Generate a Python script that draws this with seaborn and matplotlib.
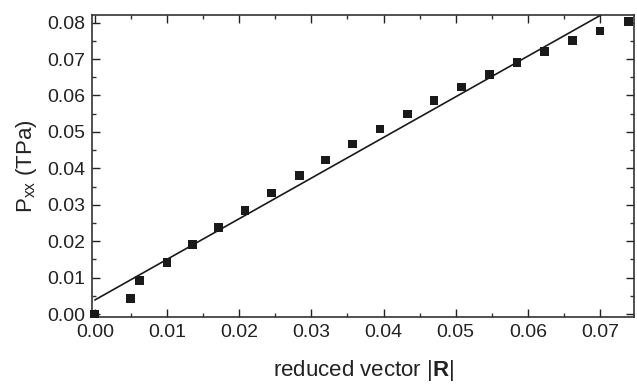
import numpy as np
import pandas as pd
import seaborn as sns
import matplotlib.pyplot as plt
from matplotlib.ticker import MultipleLocator

# data
r_vals = [0.0000, 0.0049, 0.0062, 0.0100, 0.0135, 0.0171, 0.0208, 0.0245,
          0.0283, 0.0320, 0.0357, 0.0395, 0.0433, 0.0470, 0.0508, 0.0547,
          0.0585, 0.0623, 0.0662, 0.0700, 0.0739]
pxx_vals = [0.0000, 0.0043, 0.0092, 0.0141, 0.0190, 0.0238, 0.0284, 0.0332,
            0.0380, 0.0423, 0.0467, 0.0508, 0.0549, 0.0586, 0.0623, 0.0657,
            0.0690, 0.0720, 0.0750, 0.0777, 0.0804]

# linear fit line endpoints
fit_x = [0.0, 0.0747]
fit_y = [0.00385, 0.0872]

df = pd.DataFrame({"r": r_vals, "pxx": pxx_vals})
df_fit = pd.DataFrame({"r": fit_x, "pxx": fit_y})

sns.set_style("ticks")
plt.rcParams['font.family'] = ['Liberation Sans', 'DejaVu Sans']
plt.rcParams['mathtext.fontset'] = 'custom'
plt.rcParams['mathtext.rm'] = 'Liberation Sans'
plt.rcParams['mathtext.bf'] = 'Liberation Sans:bold'

fig = plt.figure(figsize=(6.37, 3.84), dpi=100)
ax = fig.add_axes([0.1444, 0.1737, 0.8509, 0.7873])

sns.lineplot(data=df_fit, x="r", y="pxx", ax=ax, color="#1a1a1a", lw=1.2)
sns.scatterplot(data=df, x="r", y="pxx", ax=ax, marker="s", s=40,
                color="#1a1a1a", edgecolor="none", zorder=3, clip_on=False)

ax.set_xlim(-0.0004, 0.0747)
ax.set_ylim(-0.0009, 0.0821)
ax.xaxis.set_major_locator(MultipleLocator(0.01))
ax.xaxis.set_minor_locator(MultipleLocator(0.005))
ax.yaxis.set_major_locator(MultipleLocator(0.01))
ax.yaxis.set_minor_locator(MultipleLocator(0.005))
ax.xaxis.set_major_formatter(plt.FormatStrFormatter('%.2f'))
ax.yaxis.set_major_formatter(plt.FormatStrFormatter('%.2f'))

ax.tick_params(which="both", direction="in", top=True, right=True,
               color="#333333", width=1.0)
ax.tick_params(which="major", length=6, labelsize=14, colors="#222222", pad=5)
ax.tick_params(which="minor", length=3)
for s in ax.spines.values():
    s.set_color("#333333")
    s.set_linewidth(1.2)

ax.set_xlabel(r"reduced vector |$\mathbf{R}$|", fontsize=16, color="#222222", labelpad=12)
ax.set_ylabel(r"P$_{\mathrm{xx}}$ (TPa)", fontsize=16, color="#222222", labelpad=6)

fig.savefig("out.png", dpi=100)
